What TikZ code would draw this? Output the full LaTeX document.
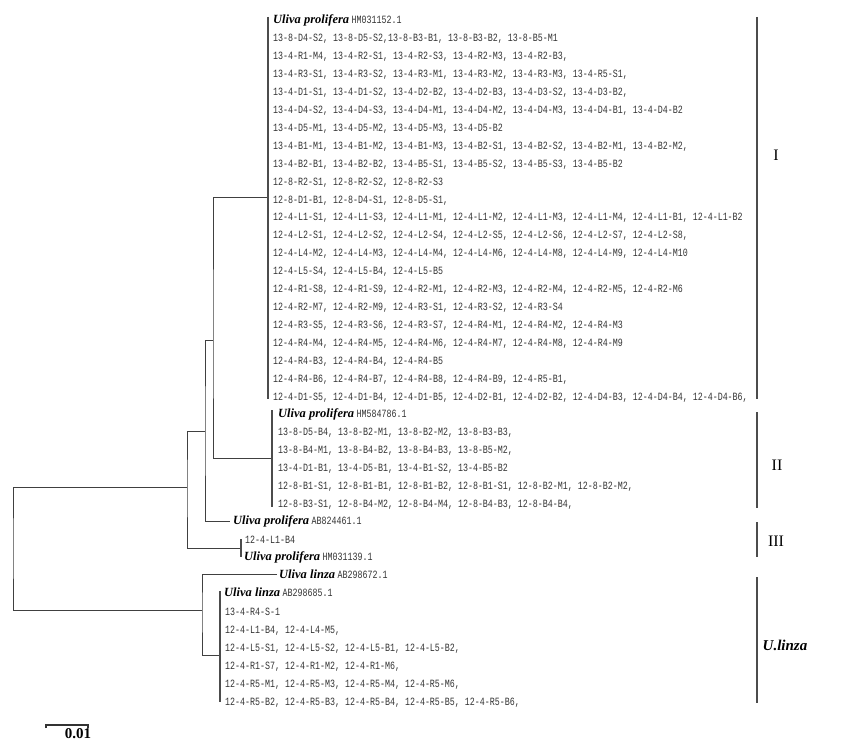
\documentclass[tikz,border=0pt]{standalone}
\usepackage{fontspec}
\setmainfont{Liberation Serif}
\newfontfamily\lblfont[FakeStretch=0.75]{Liberation Mono}
\newcommand{\spname}[2]{{\bfseries\itshape\fontsize{12.5}{12.5}\selectfont #1}\ {\lblfont\fontsize{11.1}{11.1}\selectfont\color{black!80}#2}}
\tikzset{
  lab/.style={anchor=west, inner sep=0pt, text height=7pt, text depth=0.4pt,
    font=\lblfont\fontsize{11.1}{11.1}\selectfont, text=black!80},
  spl/.style={anchor=west, inner sep=0pt, text height=7pt, text depth=0.4pt},
  br/.style={line width=1pt, draw=black!75},
  cl/.style={line width=1.7pt, draw=black!70},
  bk/.style={line width=1.8pt, draw=black!70},
  grp/.style={anchor=center, inner sep=0pt, font=\fontsize{16}{16}\selectfont},
}
\begin{document}
\begin{tikzpicture}[x=1pt, y=-1pt]
\useasboundingbox[fill=white] (0,0) rectangle (864,749);

% ---------------- tree nodes ----------------
\coordinate (root) at (13,548);
\coordinate (A) at (187,487);
\coordinate (L) at (202,610);
\coordinate (B) at (205,431);
\coordinate (D) at (213,340);
\coordinate (C1) at (268,197);
\coordinate (C2) at (272,458);
\coordinate (C3) at (241,548);
\coordinate (P3) at (230,521);
\coordinate (L1) at (277,574);
\coordinate (L2) at (220,655);

\draw[br] (A) -| (root) |- (L);
\draw[br] (B) -| (A) |- (C3);
\draw[br] (D) -| (B) |- (P3);
\draw[br] (C1) -| (D) |- (C2);
\draw[br] (L1) -| (L) |- (L2);

% clade verticals
\coordinate (C1t) at (268,17);  \coordinate (C1b) at (268,399);
\coordinate (C2t) at (272,410); \coordinate (C2b) at (272,507);
\coordinate (C3t) at (241,539); \coordinate (C3b) at (241,557);
\coordinate (L2t) at (220,591); \coordinate (L2b) at (220,702);
\draw[cl] (C1t) -- (C1b);
\draw[cl] (C2t) -- (C2b);
\draw[cl] (C3t) -- (C3b);
\draw[cl] (L2t) -- (L2b);

% ---------------- clade I labels ----------------
\node[spl] (i0) at (273,20) {\spname{Uliva prolifera}{HM031152.1}};
\node[lab] (i1) at (273,38) {13-8-D4-S2, 13-8-D5-S2,13-8-B3-B1, 13-8-B3-B2, 13-8-B5-M1};
\node[lab] (i2) at (273,56) {13-4-R1-M4, 13-4-R2-S1, 13-4-R2-S3, 13-4-R2-M3, 13-4-R2-B3,};
\node[lab] (i3) at (273,74) {13-4-R3-S1, 13-4-R3-S2, 13-4-R3-M1, 13-4-R3-M2, 13-4-R3-M3, 13-4-R5-S1,};
\node[lab] (i4) at (273,92) {13-4-D1-S1, 13-4-D1-S2, 13-4-D2-B2, 13-4-D2-B3, 13-4-D3-S2, 13-4-D3-B2,};
\node[lab] (i5) at (273,110) {13-4-D4-S2, 13-4-D4-S3, 13-4-D4-M1, 13-4-D4-M2, 13-4-D4-M3, 13-4-D4-B1, 13-4-D4-B2};
\node[lab] (i6) at (273,128) {13-4-D5-M1, 13-4-D5-M2, 13-4-D5-M3, 13-4-D5-B2};
\node[lab] (i7) at (273,146) {13-4-B1-M1, 13-4-B1-M2, 13-4-B1-M3, 13-4-B2-S1, 13-4-B2-S2, 13-4-B2-M1, 13-4-B2-M2,};
\node[lab] (i8) at (273,164) {13-4-B2-B1, 13-4-B2-B2, 13-4-B5-S1, 13-4-B5-S2, 13-4-B5-S3, 13-4-B5-B2};
\node[lab] (i9) at (273,182) {12-8-R2-S1, 12-8-R2-S2, 12-8-R2-S3};
\node[lab] (i10) at (273,200) {12-8-D1-B1, 12-8-D4-S1, 12-8-D5-S1,};
\node[lab] (i11) at (273,217) {12-4-L1-S1, 12-4-L1-S3, 12-4-L1-M1, 12-4-L1-M2, 12-4-L1-M3, 12-4-L1-M4, 12-4-L1-B1, 12-4-L1-B2};
\node[lab] (i12) at (273,235) {12-4-L2-S1, 12-4-L2-S2, 12-4-L2-S4, 12-4-L2-S5, 12-4-L2-S6, 12-4-L2-S7, 12-4-L2-S8,};
\node[lab] (i13) at (273,253) {12-4-L4-M2, 12-4-L4-M3, 12-4-L4-M4, 12-4-L4-M6, 12-4-L4-M8, 12-4-L4-M9, 12-4-L4-M10};
\node[lab] (i14) at (273,271) {12-4-L5-S4, 12-4-L5-B4, 12-4-L5-B5};
\node[lab] (i15) at (273,289) {12-4-R1-S8, 12-4-R1-S9, 12-4-R2-M1, 12-4-R2-M3, 12-4-R2-M4, 12-4-R2-M5, 12-4-R2-M6};
\node[lab] (i16) at (273,307) {12-4-R2-M7, 12-4-R2-M9, 12-4-R3-S1, 12-4-R3-S2, 12-4-R3-S4};
\node[lab] (i17) at (273,325) {12-4-R3-S5, 12-4-R3-S6, 12-4-R3-S7, 12-4-R4-M1, 12-4-R4-M2, 12-4-R4-M3};
\node[lab] (i18) at (273,343) {12-4-R4-M4, 12-4-R4-M5, 12-4-R4-M6, 12-4-R4-M7, 12-4-R4-M8, 12-4-R4-M9};
\node[lab] (i19) at (273,361) {12-4-R4-B3, 12-4-R4-B4, 12-4-R4-B5};
\node[lab] (i20) at (273,379) {12-4-R4-B6, 12-4-R4-B7, 12-4-R4-B8, 12-4-R4-B9, 12-4-R5-B1,};
\node[lab] (i21) at (273,397) {12-4-D1-S5, 12-4-D1-B4, 12-4-D1-B5, 12-4-D2-B1, 12-4-D2-B2, 12-4-D4-B3, 12-4-D4-B4, 12-4-D4-B6,};

% ---------------- clade II labels ----------------
\node[spl] (ii0) at (278,414) {\spname{Uliva prolifera}{HM584786.1}};
\node[lab] (ii1) at (278,432) {13-8-D5-B4, 13-8-B2-M1, 13-8-B2-M2, 13-8-B3-B3,};
\node[lab] (ii2) at (278,450) {13-8-B4-M1, 13-8-B4-B2, 13-8-B4-B3, 13-8-B5-M2,};
\node[lab] (ii3) at (278,468) {13-4-D1-B1, 13-4-D5-B1, 13-4-B1-S2, 13-4-B5-B2};
\node[lab] (ii4) at (278,486) {12-8-B1-S1, 12-8-B1-B1, 12-8-B1-B2, 12-8-B1-S1, 12-8-B2-M1, 12-8-B2-M2,};
\node[lab] (ii5) at (278,504) {12-8-B3-S1, 12-8-B4-M2, 12-8-B4-M4, 12-8-B4-B3, 12-8-B4-B4,};

% ---------------- single leaves / clade III ----------------
\node[spl] (p3) at (233,521) {\spname{Uliva prolifera}{AB824461.1}};
\node[lab] (iii1) at (245,540) {12-4-L1-B4};
\node[spl] (iii2) at (244,557) {\spname{Uliva prolifera}{HM031139.1}};

% ---------------- U. linza ----------------
\node[spl] (l1) at (279,575) {\spname{Uliva linza}{AB298672.1}};
\node[spl] (l20) at (224,593) {\spname{Uliva linza}{AB298685.1}};
\node[lab] (l21) at (225,612) {13-4-R4-S-1};
\node[lab] (l22) at (225,630) {12-4-L1-B4, 12-4-L4-M5,};
\node[lab] (l23) at (225,648) {12-4-L5-S1, 12-4-L5-S2, 12-4-L5-B1, 12-4-L5-B2,};
\node[lab] (l24) at (225,666) {12-4-R1-S7, 12-4-R1-M2, 12-4-R1-M6,};
\node[lab] (l25) at (225,684) {12-4-R5-M1, 12-4-R5-M3, 12-4-R5-M4, 12-4-R5-M6,};
\node[lab] (l26) at (225,702) {12-4-R5-B2, 12-4-R5-B3, 12-4-R5-B4, 12-4-R5-B5, 12-4-R5-B6,};

% ---------------- group brackets ----------------
\coordinate (g1t) at (757,17);  \coordinate (g1b) at (757,399);
\coordinate (g2t) at (757,412); \coordinate (g2b) at (757,508);
\coordinate (g3t) at (757,522); \coordinate (g3b) at (757,557);
\coordinate (g4t) at (757,577); \coordinate (g4b) at (757,703);
\draw[bk] (g1t) -- (g1b);
\draw[bk] (g2t) -- (g2b);
\draw[bk] (g3t) -- (g3b);
\draw[bk] (g4t) -- (g4b);
\node[grp] (gI) at (776,155) {I};
\node[grp] (gII) at (777,465) {II};
\node[grp] (gIII) at (776,541) {III};
\node[grp, font=\bfseries\itshape\fontsize{15}{15}\selectfont] (gL) at (785,645) {U.linza};

% ---------------- scale bar ----------------
\coordinate (s1) at (46,725);
\coordinate (s2) at (88,725);
\draw[line width=1.2pt, draw=black!80] ([yshift=-3]s1) -- (s1) -- (s2) -- ([yshift=-3]s2);
\node[inner sep=0pt, font=\bfseries\fontsize{15}{15}\selectfont] (sl) at (78,734) {0.01};
\end{tikzpicture}
\end{document}
